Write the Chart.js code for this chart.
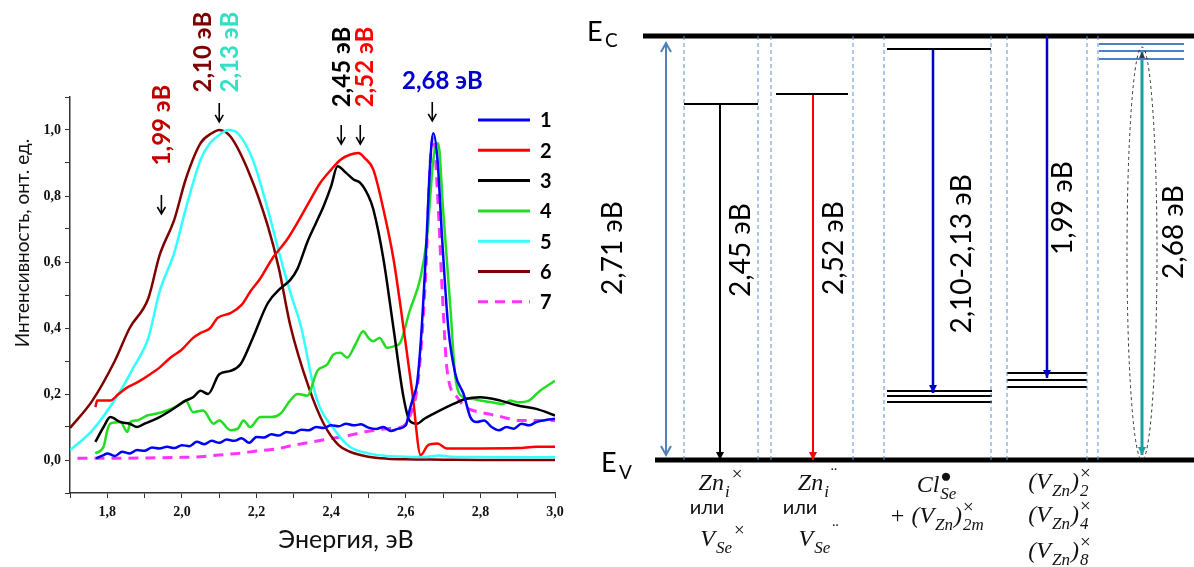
<!DOCTYPE html>
<html>
<head>
<meta charset="utf-8">
<script src="https://cdn.jsdelivr.net/npm/chart.js@4.4.1/dist/chart.umd.min.js"></script>
<style>
  html, body { margin: 0; padding: 0; background: #fff; }
  #wrap { position: relative; width: 1194px; height: 567px; overflow: hidden; }
  .box { position: absolute; top: 0; height: 567px; }
</style>
</head>
<body>
<div id="wrap">
  <div class="box" style="left:0;width:600px"><canvas id="spec"></canvas></div>
  <div class="box" style="left:560px;width:634px"><canvas id="levels"></canvas></div>
</div>
<script>
// ---------- PL spectra (energy in eV, normalised intensity) ----------
const energy1 = [1.77,1.79,1.80,1.82,1.84,1.86,1.88,1.90,1.92,1.94,1.96,1.98,2.00,2.02,2.04,2.06,2.08,2.10,2.12,2.14,2.16,2.18,2.20,2.22,2.24,2.26,2.28,2.30,2.32,2.34,2.36,2.38,2.40,2.42,2.44,2.46,2.48,2.50,2.52,2.54,2.56,2.58,2.60,2.61,2.62,2.63,2.64,2.653,2.666,2.674,2.685,2.698,2.714,2.733,2.755,2.773,2.79,2.81,2.83,2.85,2.87,2.89,2.91,2.93,2.95,2.97,3.00];
const int1    = [0.005,0.015,0.02,0.012,0.025,0.02,0.03,0.028,0.038,0.035,0.04,0.036,0.045,0.042,0.055,0.048,0.058,0.052,0.062,0.058,0.066,0.052,0.07,0.068,0.078,0.074,0.085,0.082,0.092,0.09,0.10,0.097,0.105,0.102,0.11,0.105,0.108,0.098,0.094,0.10,0.088,0.095,0.105,0.15,0.19,0.23,0.355,0.605,0.91,0.99,0.91,0.66,0.40,0.26,0.20,0.13,0.115,0.12,0.10,0.09,0.10,0.095,0.11,0.105,0.115,0.12,0.125];

const energy2 = [1.768,1.773,1.808,1.83,1.854,1.88,1.915,1.94,1.969,2.00,2.03,2.05,2.076,2.095,2.13,2.16,2.183,2.21,2.245,2.28,2.31,2.34,2.371,2.40,2.425,2.45,2.473,2.49,2.513,2.54,2.567,2.594,2.618,2.64,2.66,2.685,2.71,2.80,2.90,2.95,3.00];
const int2    = [0.16,0.18,0.18,0.20,0.22,0.235,0.26,0.28,0.31,0.335,0.37,0.385,0.40,0.43,0.445,0.47,0.51,0.55,0.615,0.665,0.72,0.78,0.84,0.88,0.91,0.925,0.93,0.915,0.88,0.76,0.61,0.40,0.20,0.015,0.045,0.05,0.035,0.035,0.036,0.04,0.04];

const energy3 = [1.768,1.79,1.808,1.835,1.86,1.88,1.90,1.94,1.97,2.01,2.03,2.05,2.07,2.10,2.13,2.157,2.19,2.23,2.264,2.29,2.31,2.336,2.36,2.38,2.40,2.417,2.44,2.46,2.478,2.50,2.513,2.54,2.567,2.594,2.61,2.63,2.65,2.674,2.70,2.728,2.76,2.80,2.854,2.90,2.95,3.00];
const int3    = [0.055,0.10,0.13,0.115,0.11,0.10,0.11,0.13,0.15,0.18,0.19,0.21,0.20,0.26,0.27,0.29,0.37,0.475,0.52,0.545,0.58,0.66,0.72,0.77,0.83,0.89,0.87,0.85,0.84,0.80,0.76,0.61,0.40,0.19,0.12,0.11,0.125,0.14,0.155,0.17,0.185,0.19,0.18,0.165,0.155,0.135];

const energy4 = [1.768,1.79,1.80,1.808,1.835,1.854,1.862,1.88,1.907,1.93,1.96,1.99,2.01,2.03,2.057,2.085,2.10,2.13,2.15,2.165,2.183,2.21,2.24,2.264,2.29,2.31,2.336,2.363,2.39,2.406,2.425,2.443,2.465,2.486,2.50,2.513,2.53,2.55,2.57,2.585,2.61,2.64,2.657,2.674,2.687,2.70,2.72,2.733,2.755,2.78,2.80,2.83,2.86,2.88,2.90,2.93,2.96,3.00];
const int4    = [0.02,0.04,0.09,0.11,0.115,0.085,0.115,0.12,0.135,0.14,0.15,0.165,0.18,0.145,0.15,0.11,0.12,0.09,0.095,0.12,0.10,0.13,0.13,0.14,0.18,0.20,0.195,0.27,0.29,0.32,0.325,0.31,0.35,0.39,0.37,0.36,0.37,0.34,0.345,0.355,0.45,0.555,0.675,0.91,0.96,0.76,0.455,0.25,0.19,0.185,0.18,0.175,0.17,0.18,0.175,0.18,0.21,0.24];

const energy5 = [1.70,1.76,1.83,1.87,1.91,1.94,1.98,2.01,2.05,2.075,2.10,2.125,2.15,2.19,2.23,2.26,2.29,2.32,2.36,2.41,2.45,2.50,2.55,2.60,2.65,2.69,2.72,2.80,2.90,3.00];
const int5    = [0.03,0.09,0.20,0.28,0.37,0.51,0.63,0.76,0.91,0.96,0.985,1.00,0.99,0.91,0.76,0.63,0.51,0.40,0.19,0.09,0.04,0.02,0.012,0.01,0.009,0.014,0.01,0.009,0.008,0.008];

const energy6 = [1.70,1.76,1.82,1.86,1.91,1.94,1.98,2.01,2.05,2.08,2.10,2.13,2.18,2.23,2.26,2.29,2.34,2.38,2.42,2.45,2.50,2.55,2.60,2.70,2.80,2.90,3.00];
const int6    = [0.097,0.18,0.30,0.40,0.49,0.62,0.73,0.85,0.96,0.99,1.00,0.98,0.87,0.71,0.58,0.41,0.22,0.11,0.045,0.025,0.01,0.004,0.002,0.001,0,0,0];

const energy7 = [1.72,1.80,1.90,2.00,2.05,2.10,2.15,2.20,2.25,2.30,2.35,2.40,2.45,2.50,2.55,2.58,2.61,2.634,2.653,2.666,2.674,2.685,2.698,2.711,2.738,2.76,2.78,2.82,2.86,2.90,2.95,3.00];
const int7    = [0.005,0.005,0.006,0.008,0.01,0.015,0.02,0.027,0.033,0.045,0.055,0.065,0.075,0.087,0.095,0.097,0.13,0.25,0.555,0.91,0.98,0.81,0.505,0.27,0.19,0.16,0.15,0.14,0.13,0.12,0.12,0.12];

const seriesNames  = ['1','2','3','4','5','6','7'];
const seriesEnergy = [energy1, energy2, energy3, energy4, energy5, energy6, energy7];
const seriesInt    = [int1, int2, int3, int4, int5, int6, int7];

// peak annotations
const peakText  = ['1,99 эВ','2,10 эВ','2,13 эВ','2,45 эВ','2,52 эВ','2,68 эВ'];
const arrowE    = [1.945, 2.10, 2.427, 2.478, 2.671];

// ---------- energy-level scheme (eV above E_V, drawn positions) ----------
const bandGap = 2.71;
const columnEdges   = [124, 198, 211, 293, 324, 431, 447, 527, 538];
const levelStart    = [124, 216, 327, 327, 327, 327, 447, 447, 447, 539, 539, 539];
const levelEnd      = [198, 288, 431, 432, 432, 432, 527, 527, 527, 624, 624, 624];
const levelEnergy   = [2.275, 2.339, 2.627, 0.441, 0.409, 0.371, 0.556, 0.511, 0.467, 2.659, 2.614, 2.563];
const transX        = [106, 160, 253, 373, 487, 582];
const transFrom     = [2.665, 2.275, 2.339, 2.627, 2.71, 2.608];
const transTo       = [0.032, 0, 0, 0.428, 0.524, 0.032];
const transText     = ['2,71 эВ','2,45 эВ','2,52 эВ','2,10-2,13 эВ','1,99 эВ','2,68 эВ'];

const colors = ['#0000ff','#ff0000','#000000','#22dd22','#33ffff','#800000','#ff33ff'];

function arrowDown(ctx, x, y1, y2) {
  ctx.beginPath();
  ctx.moveTo(x, y1); ctx.lineTo(x, y2);
  ctx.moveTo(x - 4, y2 - 7); ctx.lineTo(x, y2); ctx.lineTo(x + 4, y2 - 7);
  ctx.stroke();
}

const specDecor = {
  id: 'specDecor',
  afterDatasetsDraw(chart) {
    const { ctx, scales: { x, y } } = chart;
    ctx.save();
    ctx.fillStyle = '#111';
    ctx.textAlign = 'center';
    ctx.textBaseline = 'middle';
    // axis titles
    ctx.font = "19px Lato";
    ctx.save();
    ctx.translate(23, 243);
    ctx.rotate(-Math.PI / 2);
    ctx.fillText('Интенсивность, онт. ед.', 0, 0);
    ctx.restore();
    ctx.font = "25px Lato";
    ctx.fillText('Энергия, эВ', 346, 540);

    // legend
    chart.data.datasets.forEach((ds, i) => {
      const ly = 120 + i * 30.3;
      ctx.strokeStyle = ds.borderColor;
      ctx.lineWidth = 3;
      ctx.setLineDash(ds.borderDash || []);
      ctx.beginPath(); ctx.moveTo(478, ly); ctx.lineTo(530, ly); ctx.stroke();
      ctx.setLineDash([]);
      ctx.fillStyle = '#000';
      ctx.font = "bold 20px Lato";
      ctx.textAlign = 'left';
      ctx.fillText(ds.label, 540, ly + 1);
    });

    // peak labels
    const tcol = ['#c00000','#7f0000','#33e0c4','#000000','#ff0000','#0000cc'];
    const tx = [1.947, 2.058, 2.130, 2.430, 2.492, 2.698];
    const ty = [1.015, 1.236, 1.236, 1.191, 1.191, 1.148];
    ctx.font = "bold 24px Lato";
    ctx.textAlign = 'center';
    peakText.forEach((t, i) => {
      ctx.fillStyle = tcol[i];
      const px = x.getPixelForValue(tx[i]), py = y.getPixelForValue(ty[i]);
      ctx.save();
      ctx.translate(px, py);
      if (i < 5) ctx.rotate(-Math.PI / 2);
      ctx.fillText(t, 0, 0);
      ctx.restore();
    });
    // arrows
    const aTop = [0.803, 1.082, 1.015, 1.015, 1.085];
    ctx.strokeStyle = '#000';
    ctx.lineWidth = 1.6;
    arrowE.forEach((e, i) => {
      const px = x.getPixelForValue(e);
      const y1 = y.getPixelForValue(aTop[i]);
      arrowDown(ctx, px, y1, y1 + 19);
    });
    ctx.restore();
  }
};

const tickLabel = (lo, hi) => function (v) {
  const k = Math.round(v * 10);
  return (k % 2 === 0 && k >= lo && k <= hi) ? (k / 10).toFixed(1).replace('.', ',') : '';
};

new Chart(document.getElementById('spec'), {
  type: 'line',
  data: {
    datasets: seriesNames.map((n, i) => ({
      label: n,
      data: seriesEnergy[i].map((e, k) => ({ x: e, y: seriesInt[i][k] })),
      borderColor: colors[i],
      backgroundColor: colors[i],
      borderWidth: i === 6 ? 3 : 2.5,
      borderDash: i === 6 ? [10, 7] : undefined,
      pointRadius: 0,
      cubicInterpolationMode: 'monotone',
      fill: false
    }))
  },
  options: {
    responsive: true,
    maintainAspectRatio: false,
    animation: false,
    devicePixelRatio: 1,
    layout: { padding: { left: 0, top: 97, right: 45, bottom: 0 } },
    plugins: { legend: { display: false }, tooltip: { enabled: false } },
    scales: {
      x: {
        type: 'linear', min: 1.7, max: 3.0,
        afterFit(s) { s.height = 74; },
        border: { color: '#333', width: 1.5 },
        grid: { drawOnChartArea: false, drawTicks: true, tickLength: 5, color: '#333' },
        ticks: { stepSize: 0.1, autoSkip: false, maxRotation: 0, padding: 6, color: '#111',
                 font: { family: 'Liberation Sans Narrow', weight: 'bold', size: 14 },
                 callback: tickLabel(18, 30) }
      },
      y: {
        min: -0.1, max: 1.1,
        afterFit(s) { s.width = 70; },
        border: { color: '#333', width: 1.5 },
        grid: { drawOnChartArea: false, drawTicks: true, tickLength: 5, color: '#333' },
        ticks: { stepSize: 0.1, autoSkip: false, padding: 4, color: '#111',
                 font: { family: 'Liberation Sans Narrow', weight: 'bold', size: 14 },
                 callback: tickLabel(0, 10) }
      }
    }
  },
  plugins: [specDecor]
});

// ---------- scheme ----------
function seg(x1, y1, x2, y2, color, width, dash) {
  return { data: [{ x: x1, y: y1 }, { x: x2, y: y2 }], borderColor: color, borderWidth: width,
           borderDash: dash || [], showLine: true, pointRadius: 0, borderCapStyle: 'butt' };
}
const schemeSets = [];
columnEdges.forEach(cx => schemeSets.push(seg(cx, 0, cx, bandGap, '#5b8fd0', 1, [4, 3])));
levelStart.forEach((s, i) => schemeSets.push(seg(s, levelEnergy[i], levelEnd[i], levelEnergy[i], i < 9 ? '#000' : '#4f81bd', 2)));
const transColor = ['#4f81bd', '#000', '#ff0000', '#0000cc', '#0000cc', '#1a9f9f'];
const transWidth = [2, 2, 2, 2.5, 2.5, 3];
transX.forEach((tx, i) => schemeSets.push(seg(tx, transFrom[i], tx, transTo[i], transColor[i], transWidth[i])));
schemeSets.push(seg(83, bandGap, 634, bandGap, '#000', 5));
schemeSets.push(seg(95, 0, 634, 0, '#000', 5));

// parts: {t} main text, {sub} / {sup} one index, {sub, sup} stacked indices
function drawRich(ctx, cx, by, parts, size) {
  const fam = "'Liberation Serif', serif";
  const big = `italic ${size}px ${fam}`;
  const sm = `italic ${Math.round(size * 0.7)}px ${fam}`;
  const supF = `${Math.round(size * 0.8)}px ${fam}`;
  const w = parts.map(p => {
    if (p.t !== undefined) { ctx.font = big; return ctx.measureText(p.t).width; }
    ctx.font = sm; const a = ctx.measureText(p.sub || '').width;
    ctx.font = supF; const b = ctx.measureText(p.sup || '').width;
    return Math.max(a, b) + 2;
  });
  let px = cx - w.reduce((a, b) => a + b, 0) / 2;
  ctx.textAlign = 'left';
  ctx.textBaseline = 'alphabetic';
  parts.forEach((p, k) => {
    if (p.t !== undefined) { ctx.font = big; ctx.fillText(p.t, px, by); }
    else {
      if (p.sub) { ctx.font = sm; ctx.fillText(p.sub, px + 1, by + size * 0.3); }
      if (p.sup) { ctx.font = supF; ctx.fillText(p.sup, px + 1, by - size * 0.42); }
    }
    px += w[k];
  });
}

const schemeDecor = {
  id: 'schemeDecor',
  afterDatasetsDraw(chart) {
    const { ctx, scales: { x, y } } = chart;
    const X = v => x.getPixelForValue(v), Y = v => y.getPixelForValue(v);
    ctx.save();
    // arrow heads
    transX.forEach((tx, i) => {
      const px = X(tx), yEnd = Y(transTo[i]);
      ctx.fillStyle = transColor[i];
      ctx.strokeStyle = transColor[i];
      if (i === 0) {
        const yTop = Y(transFrom[i]);
        ctx.lineWidth = 2;
        ctx.beginPath();
        ctx.moveTo(px - 5, yTop + 9); ctx.lineTo(px, yTop); ctx.lineTo(px + 5, yTop + 9);
        ctx.moveTo(px - 5, yEnd - 9); ctx.lineTo(px, yEnd); ctx.lineTo(px + 5, yEnd - 9);
        ctx.stroke();
        return;
      }
      ctx.beginPath();
      ctx.moveTo(px - 4, yEnd - 8); ctx.lineTo(px, yEnd); ctx.lineTo(px + 4, yEnd - 8);
      ctx.closePath(); ctx.fill();
      if (i === 5) {
        const yTop = Y(transFrom[i]);
        ctx.fillStyle = '#336';
        ctx.beginPath();
        ctx.moveTo(px - 3, yTop + 6); ctx.lineTo(px, yTop); ctx.lineTo(px + 3, yTop + 6);
        ctx.closePath(); ctx.fill();
      }
    });
    // dashed ellipse around the 2,68 eV transition
    ctx.strokeStyle = '#333';
    ctx.lineWidth = 1;
    ctx.setLineDash([3, 3]);
    ctx.beginPath();
    ctx.ellipse(X(582), Y(1.32), 15, Math.abs(Y(1.32) - Y(2.64)), 0, 0, Math.PI * 2);
    ctx.stroke();
    ctx.setLineDash([]);

    // band labels
    ctx.fillStyle = '#000';
    ctx.textAlign = 'left';
    ctx.textBaseline = 'alphabetic';
    ctx.font = "27px Lato";
    ctx.fillText('E', X(27), Y(2.71) + 5);
    ctx.fillText('E', X(41), Y(0) + 12);
    ctx.font = "19px Lato";
    ctx.fillText('C', X(45), Y(2.71) + 11);
    ctx.fillText('V', X(59), Y(0) + 19);

    // transition labels
    const lx = [53, 181, 274, 402, 503, 614];
    const ly = [1.355, 1.342, 1.355, 1.317, 1.61, 1.457];
    ctx.font = "28px Lato";
    ctx.textAlign = 'center';
    ctx.textBaseline = 'middle';
    transText.forEach((t, i) => {
      ctx.save();
      ctx.translate(X(lx[i]), Y(ly[i]));
      ctx.rotate(-Math.PI / 2);
      ctx.fillText(t, 0, 0);
      ctx.restore();
    });

    // defect notation
    ctx.fillStyle = '#111';
    const S = 24;
    drawRich(ctx, X(161), Y(-0.192), [{ t: 'Zn' }, { sub: 'i' }, { sup: '×' }], S);
    drawRich(ctx, X(163), Y(-0.55), [{ t: 'V' }, { sub: 'Se' }, { sup: '×' }], S);
    drawRich(ctx, X(258), Y(-0.192), [{ t: 'Zn' }, { sub: 'i' }, { sup: '¨' }], S);
    drawRich(ctx, X(259), Y(-0.55), [{ t: 'V' }, { sub: 'Se' }, { sup: '¨' }], S);
    drawRich(ctx, X(377), Y(-0.205), [{ t: 'Cl' }, { sub: 'Se', sup: '●' }], S);
    drawRich(ctx, X(377), Y(-0.403), [{ t: '+ (' }, { t: 'V' }, { sub: 'Zn' }, { t: ')' }, { sub: '2m', sup: '×' }], S);
    drawRich(ctx, X(500), Y(-0.185), [{ t: '(' }, { t: 'V' }, { sub: 'Zn' }, { t: ')' }, { sub: '2', sup: '×' }], S);
    drawRich(ctx, X(500), Y(-0.396), [{ t: '(' }, { t: 'V' }, { sub: 'Zn' }, { t: ')' }, { sub: '4', sup: '×' }], S);
    drawRich(ctx, X(500), Y(-0.626), [{ t: '(' }, { t: 'V' }, { sub: 'Zn' }, { t: ')' }, { sub: '8', sup: '×' }], S);
    ctx.font = "20px Lato";
    ctx.textAlign = 'center';
    ctx.textBaseline = 'alphabetic';
    ctx.fillText('или', X(147), Y(-0.345));
    ctx.fillText('или', X(240), Y(-0.345));
    ctx.restore();
  }
};

new Chart(document.getElementById('levels'), {
  type: 'scatter',
  data: { datasets: schemeSets },
  options: {
    responsive: true,
    maintainAspectRatio: false,
    animation: false,
    devicePixelRatio: 1,
    layout: { padding: 0 },
    plugins: { legend: { display: false }, tooltip: { enabled: false } },
    scales: {
      x: { type: 'linear', display: false, min: 0, max: 634 },
      y: { type: 'linear', display: false, min: -0.684, max: 2.94 }
    }
  },
  plugins: [schemeDecor]
});
</script>
</body>
</html>
